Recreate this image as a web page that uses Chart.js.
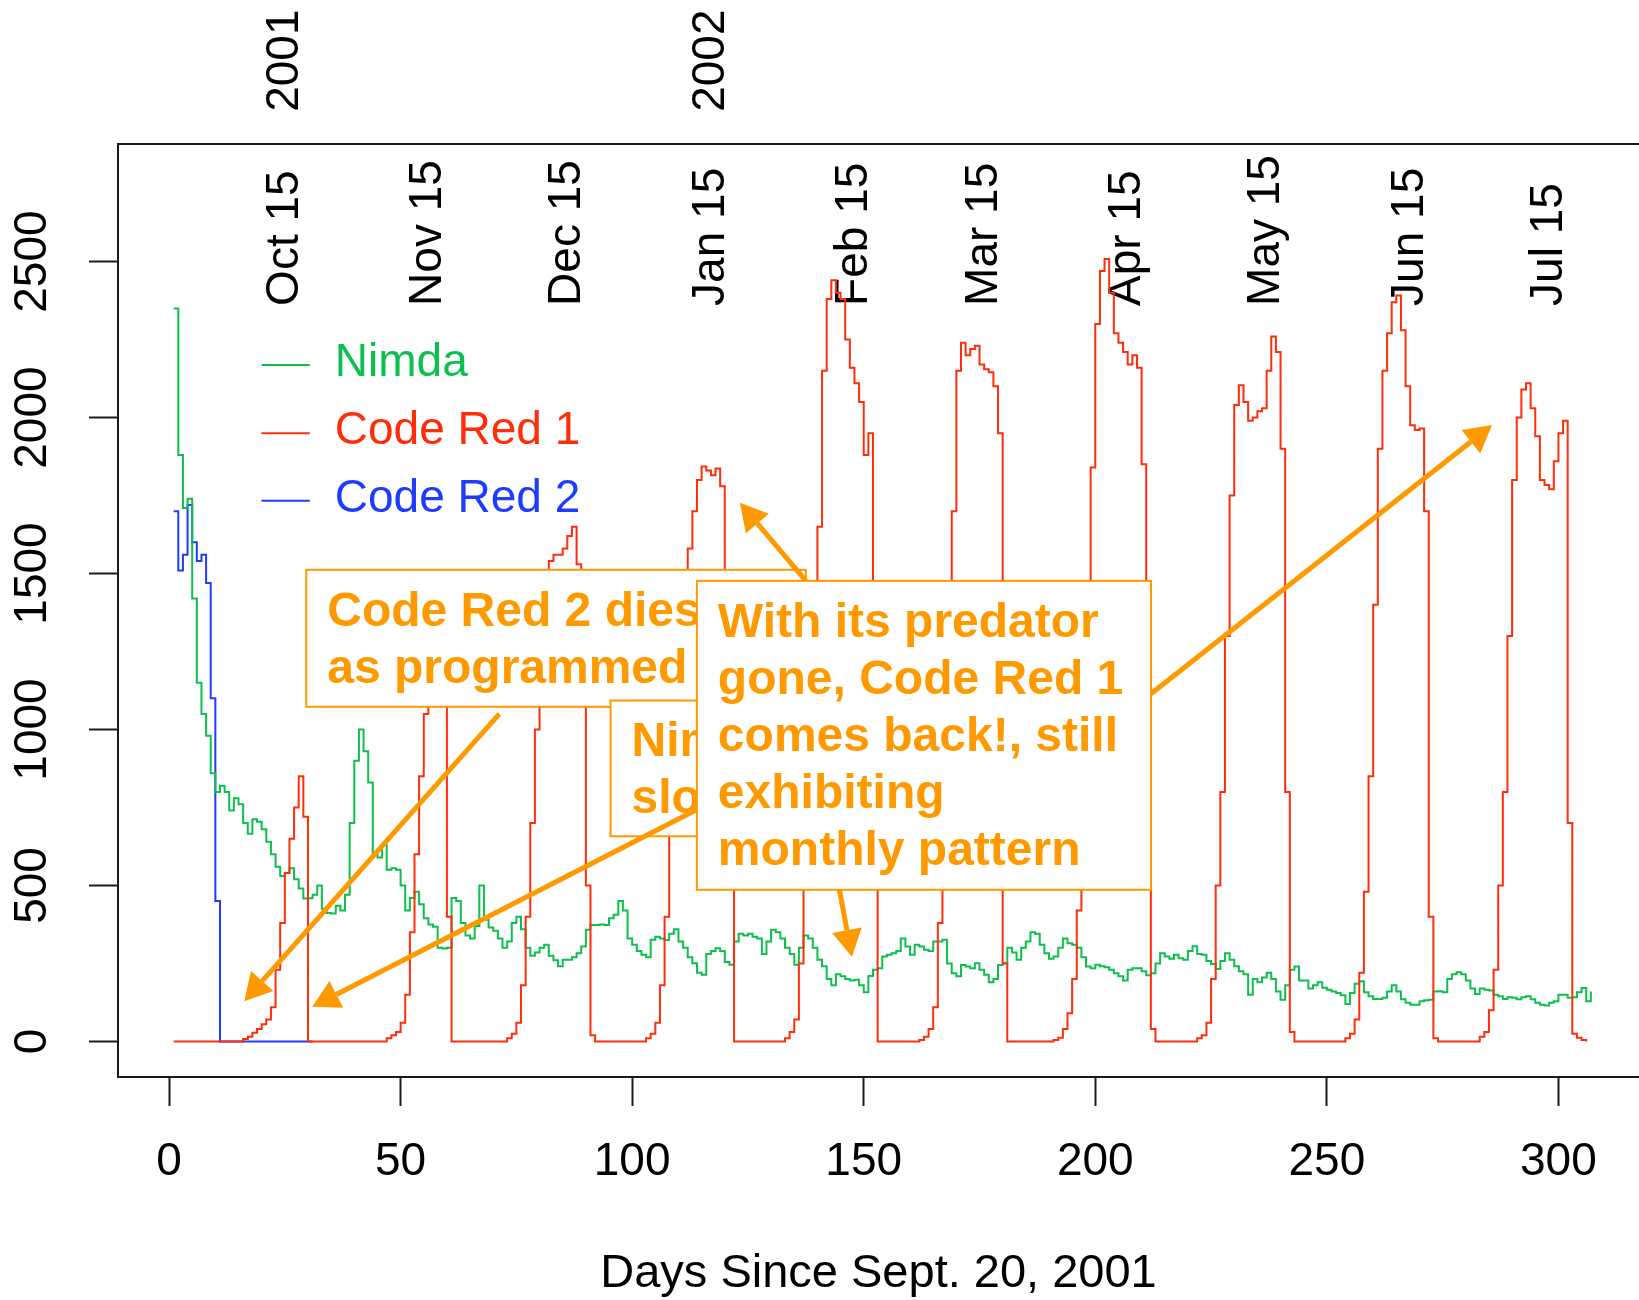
<!DOCTYPE html>
<html>
<head>
<meta charset="utf-8">
<title>Worm activity</title>
<script src="https://cdn.jsdelivr.net/npm/chart.js@4.4.1/dist/chart.umd.min.js"></script>
<style>
    html, body { margin: 0; padding: 0; background: #fff; overflow: hidden; }
    #wrap { width: 1639px; height: 1300px; }
</style>
</head>
<body>
<div id="wrap"><canvas id="wormGraph" width="1639" height="1300"></canvas></div>
<script>

// daily counts, day 1 = Sept. 21, 2001
const nimda = [
    2350, 1880, 1710, 1740, 1420, 1150, 1050, 980, 860, 800,
    820, 800, 740, 780, 760, 700, 666, 712, 704, 680,
    640, 600, 560, 530, 540, 555, 520, 490, 458, 459,
    470, 500, 425, 412, 410, 435, 420, 470, 700, 900,
    1000, 930, 830, 600, 590, 630, 550, 555, 550, 500,
    420, 460, 480, 440, 395, 375, 368, 300, 298, 300,
    460, 450, 380, 340, 330, 370, 500, 390, 365, 355,
    330, 300, 320, 380, 400, 360, 300, 275, 285, 300,
    310, 275, 260, 241, 262, 262, 270, 283, 304, 358,
    373, 373, 375, 373, 395, 406, 450, 420, 330, 310,
    290, 278, 270, 326, 336, 330, 325, 345, 360, 320,
    300, 270, 251, 220, 214, 280, 290, 299, 290, 255,
    246, 320, 345, 340, 345, 336, 330, 280, 320, 358,
    350, 330, 300, 280, 246, 300, 340, 330, 300, 262,
    241, 200, 180, 215, 209, 200, 195, 198, 180, 158,
    210, 230, 235, 272, 278, 283, 290, 330, 304, 278,
    310, 304, 294, 290, 320, 320, 326, 250, 219, 209,
    245, 240, 235, 251, 230, 214, 190, 200, 245, 251,
    300, 285, 262, 300, 320, 350, 345, 310, 283, 265,
    272, 300, 330, 315, 310, 300, 270, 240, 235, 246,
    241, 238, 230, 219, 209, 195, 230, 235, 235, 225,
    212, 219, 250, 283, 272, 265, 278, 267, 262, 290,
    305, 280, 278, 258, 248, 232, 258, 283, 262, 241,
    225, 215, 150, 200, 190, 205, 220, 200, 160, 134,
    180, 230, 240, 195, 195, 170, 180, 190, 172, 166,
    160, 155, 148, 120, 155, 185, 193, 158, 145, 136,
    136, 140, 160, 180, 160, 135, 124, 118, 118, 129,
    132, 134, 160, 161, 158, 200, 215, 222, 215, 195,
    170, 152, 170, 166, 163, 150, 145, 136, 142, 140,
    135, 142, 145, 135, 124, 118, 115, 124, 129, 150,
    150, 140, 142, 158, 171, 129, 160
];

const codeRed1 = [
    0, 0, 0, 0, 0, 0, 0, 0, 0, 0,
    0, 0, 0, 0, 0, 8, 15, 28, 40, 55,
    70, 110, 230, 380, 540, 650, 750, 850, 720, 0,
    0, 0, 0, 0, 0, 0, 0, 0, 0, 0,
    0, 0, 0, 0, 0, 0, 10, 20, 30, 60,
    150, 350, 600, 850, 1050, 1200, 1300, 1350, 1250, 400,
    0, 0, 0, 0, 0, 0, 0, 0, 0, 0,
    0, 0, 10, 25, 60, 180, 400, 700, 1000, 1250,
    1450, 1540, 1560, 1560, 1580, 1620, 1650, 1530, 1450, 500,
    20, 0, 0, 0, 0, 0, 0, 0, 0, 0,
    0, 0, 10, 25, 60, 180, 400, 700, 950, 1200,
    1400, 1580, 1700, 1800, 1843, 1830, 1815, 1837, 1780, 1500,
    800, 0, 0, 0, 0, 0, 0, 0, 0, 0,
    0, 0, 10, 30, 70, 250, 550, 900, 1200, 1650,
    2150, 2380, 2440, 2400, 2380, 2250, 2160, 2110, 2050, 1880,
    1950, 1000, 0, 0, 0, 0, 0, 0, 0, 0,
    0, 5, 15, 40, 110, 380, 650, 1100, 1700, 2150,
    2240, 2200, 2220, 2230, 2170, 2155, 2145, 2100, 1950, 250,
    0, 0, 0, 0, 0, 0, 0, 0, 0, 0,
    5, 12, 40, 90, 200, 420, 800, 1200, 1840, 2300,
    2470, 2508, 2400, 2270, 2240, 2210, 2170, 2200, 2160, 1850,
    600, 40, 0, 0, 0, 0, 0, 0, 0, 0,
    0, 10, 20, 60, 200, 500, 800, 1300, 1750, 2040,
    2104, 2050, 1990, 2000, 2020, 2030, 2150, 2260, 2210, 1900,
    800, 30, 0, 0, 0, 0, 0, 0, 0, 0,
    0, 0, 0, 10, 25, 70, 220, 480, 850, 1400,
    1900, 2150, 2270, 2370, 2391, 2280, 2100, 1975, 1960, 1965,
    1700, 400, 10, 0, 0, 0, 0, 0, 0, 0,
    0, 0, 15, 30, 100, 230, 500, 800, 1300, 1800,
    2000, 2090, 2110, 2030, 1940, 1800, 1784, 1770, 1860, 1950,
    1990, 700, 25, 12, 5, 0
];

const codeRed2 = [
    1700, 1510, 1560, 1720, 1600, 1540, 1560, 1470, 1100, 450,
    0, 0, 0, 0, 0, 0, 0, 0, 0, 0,
    0, 0, 0, 0, 0, 0, 0, 0, 0, 0,
    0
];

const xTicks = [0, 50, 100, 150, 200, 250, 300];
const yTicks = [0, 500, 1000, 1500, 2000, 2500];

const monthDays = [25, 56, 86, 117, 148, 176, 207, 237, 268, 298];
const monthLabels = ['Oct 15', 'Nov 15', 'Dec 15', 'Jan 15', 'Feb 15', 'Mar 15', 'Apr 15', 'May 15', 'Jun 15', 'Jul 15'];
const yearDays = [25, 117];
const yearLabels = ['2001', '2002'];

const seriesNames = ['Nimda', 'Code Red 1', 'Code Red 2'];


const FONT = '"Liberation Sans", Arial, Helvetica, sans-serif';
const AXIS_COLOR = '#1a1a1a';
const GREEN = '#0DBF4E';
const RED = '#FF2D0A';
const BLUE = '#1E3CFF';
const ORANGE = '#FF9900';

// callout boxes: corners in (day, count), text offsets in px
const notes = [
    { box: [29.63, 1512, 137.5, 1072.8], lines: ['Code Red 2 dies', 'as programmed'] },
    { box: [95.33, 1093, 179.4, 657.7], lines: ['Nimda', 'slowly'] },
    { box: [113.97, 1476.6, 212.03, 486.2], lines: ['With its predator', 'gone, Code Red 1', 'comes back!, still', 'exhibiting', 'monthly pattern'] }
];

// arrows: [tail day, tail count, tip day, tip count]
const arrows = [
    [71.32, 1050.3, 16.24, 128.8],
    [114.62, 748.4, 30.93, 111.2],
    [137.52, 1476.6, 123.26, 1726.6],
    [144.75, 486.2, 147.45, 271.5],
    [212.03, 1114.4, 285.68, 1976]
];

function toPoints(values) {
    return values.map((v, i) => ({ x: i + 1, y: v }));
}

function drawArrow(ctx, x1, y1, x2, y2) {
    const ang = Math.atan2(y2 - y1, x2 - x1);
    const headLen = 27;
    const headHalf = 15;
    const bx = x2 - headLen * Math.cos(ang);
    const by = y2 - headLen * Math.sin(ang);

    ctx.beginPath();
    ctx.moveTo(x1, y1);
    ctx.lineTo(bx, by);
    ctx.stroke();

    ctx.beginPath();
    ctx.moveTo(x2, y2);
    ctx.lineTo(bx + headHalf * Math.sin(ang), by - headHalf * Math.cos(ang));
    ctx.lineTo(bx - headHalf * Math.sin(ang), by + headHalf * Math.cos(ang));
    ctx.closePath();
    ctx.fill();
}

function drawNote(ctx, x, y, note) {
    const left = x.getPixelForValue(note.box[0]);
    const top = y.getPixelForValue(note.box[1]);
    const right = x.getPixelForValue(note.box[2]);
    const bottom = y.getPixelForValue(note.box[3]);

    ctx.fillStyle = '#fff';
    ctx.fillRect(left, top, right - left, bottom - top);
    ctx.strokeStyle = ORANGE;
    ctx.lineWidth = 2;
    ctx.strokeRect(left, top, right - left, bottom - top);

    ctx.fillStyle = ORANGE;
    ctx.font = 'bold 48px ' + FONT;
    ctx.textAlign = 'left';
    ctx.textBaseline = 'alphabetic';
    note.lines.forEach((line, i) => {
        ctx.fillText(line, left + 21, top + 56 + i * 57);
    });
}

const wormNotes = {
    id: 'wormNotes',
    beforeDatasetsDraw(chart) {
        const { ctx, chartArea, scales: { x, y } } = chart;
        ctx.save();

        // top edge of the plot box
        ctx.strokeStyle = AXIS_COLOR;
        ctx.lineWidth = 2;
        ctx.beginPath();
        ctx.moveTo(chartArea.left, chartArea.top);
        ctx.lineTo(chartArea.right, chartArea.top);
        ctx.stroke();

        // month and year labels
        ctx.fillStyle = '#000';
        ctx.font = '46px ' + FONT;
        ctx.textAlign = 'left';
        ctx.textBaseline = 'middle';
        monthDays.forEach((d, i) => {
            ctx.save();
            ctx.translate(x.getPixelForValue(d), y.getPixelForValue(2358));
            ctx.rotate(-Math.PI / 2);
            ctx.fillText(monthLabels[i], 0, 0);
            ctx.restore();
        });
        yearDays.forEach((d, i) => {
            ctx.save();
            ctx.translate(x.getPixelForValue(d), y.getPixelForValue(2980));
            ctx.rotate(-Math.PI / 2);
            ctx.fillText(yearLabels[i], 0, 0);
            ctx.restore();
        });

        // legend
        const legendColors = [GREEN, RED, BLUE];
        const legendRows = [2168.9, 1950, 1733];
        ctx.lineWidth = 2;
        ctx.textBaseline = 'alphabetic';
        seriesNames.forEach((name, i) => {
            const ly = y.getPixelForValue(legendRows[i]);
            ctx.strokeStyle = legendColors[i];
            ctx.beginPath();
            ctx.moveTo(x.getPixelForValue(19.96), ly);
            ctx.lineTo(x.getPixelForValue(30.39), ly);
            ctx.stroke();
            ctx.fillStyle = legendColors[i];
            ctx.fillText(name, x.getPixelForValue(35.79), ly + 11);
        });

        ctx.restore();
    },
    afterDatasetsDraw(chart) {
        const { ctx, scales: { x, y } } = chart;
        ctx.save();

        drawNote(ctx, x, y, notes[0]);
        drawNote(ctx, x, y, notes[1]);

        ctx.strokeStyle = ORANGE;
        ctx.fillStyle = ORANGE;
        ctx.lineWidth = 5;
        arrows.forEach(a => {
            drawArrow(ctx, x.getPixelForValue(a[0]), y.getPixelForValue(a[1]),
                x.getPixelForValue(a[2]), y.getPixelForValue(a[3]));
        });

        drawNote(ctx, x, y, notes[2]);

        ctx.restore();
    }
};


function drawWormGraph() {
    const wormGraph = document.getElementById('wormGraph');

    Chart.defaults.font.family = FONT;
    Chart.defaults.color = '#000';

    const lineStyle = {
        borderWidth: 2,
        pointRadius: 0,
        stepped: 'before',
        fill: false,
        tension: 0
    };

    new Chart(wormGraph, {
        type: 'line',
        data: {
            datasets: [
                Object.assign({ label: seriesNames[1], data: toPoints(codeRed1), borderColor: RED }, lineStyle),
                Object.assign({ label: seriesNames[0], data: toPoints(nimda), borderColor: GREEN }, lineStyle),
                Object.assign({ label: seriesNames[2], data: toPoints(codeRed2), borderColor: BLUE }, lineStyle)
            ]
        },
        options: {
            responsive: false,
            animation: false,
            events: [],
            layout: {
                padding: { top: 144, left: 0, right: 0, bottom: 0 }
            },
            plugins: {
                legend: { display: false },
                tooltip: { enabled: false }
            },
            scales: {
                x: {
                    type: 'linear',
                    min: -11.02,
                    max: 317.4,
                    afterBuildTicks: (scale) => { scale.ticks = xTicks.map(v => ({ value: v })); },
                    afterFit: (scale) => { scale.height = 223; },
                    ticks: {
                        autoSkip: false,
                        maxRotation: 0,
                        padding: 33,
                        color: '#000',
                        font: { size: 46, lineHeight: 1 },
                        callback: (v) => String(v)
                    },
                    grid: {
                        drawOnChartArea: false,
                        drawTicks: true,
                        tickLength: 29,
                        tickWidth: 2,
                        tickColor: AXIS_COLOR,
                        color: AXIS_COLOR
                    },
                    border: { display: true, color: AXIS_COLOR, width: 2 },
                    title: {
                        display: true,
                        text: 'Days Since Sept. 20, 2001',
                        color: '#000',
                        font: { size: 47, lineHeight: 1 },
                        padding: { top: 0, bottom: 2 }
                    }
                },
                y: {
                    type: 'linear',
                    min: -114,
                    max: 2877,
                    afterBuildTicks: (scale) => { scale.ticks = yTicks.map(v => ({ value: v })); },
                    afterFit: (scale) => { scale.width = 118; },
                    ticks: {
                        autoSkip: false,
                        minRotation: 90,
                        maxRotation: 90,
                        crossAlign: 'center',
                        padding: 5,
                        color: '#000',
                        font: { size: 46, lineHeight: 1 },
                        callback: (v) => String(v)
                    },
                    grid: {
                        drawOnChartArea: false,
                        drawTicks: true,
                        tickLength: 29,
                        tickWidth: 2,
                        tickColor: AXIS_COLOR,
                        color: AXIS_COLOR
                    },
                    border: { display: true, color: AXIS_COLOR, width: 2 }
                }
            }
        },
        plugins: [wormNotes]
    });
}

drawWormGraph();

</script>
</body>
</html>
